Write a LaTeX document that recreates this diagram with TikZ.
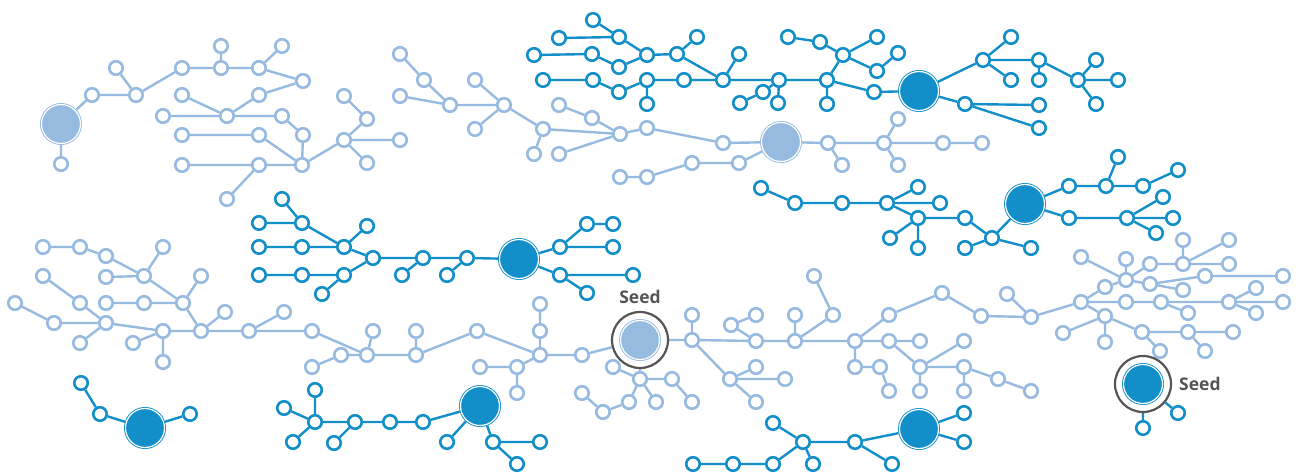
\documentclass[tikz,border=0pt]{standalone}
\usepackage{fontspec}
\setmainfont{Open Sans}
\usetikzlibrary{backgrounds}

\definecolor{paleblue}{RGB}{151,186,224}
\definecolor{deepblue}{RGB}{18,142,200}
\definecolor{seedgray}{RGB}{85,85,85}

\tikzset{
  sm/.style={circle, fill=white, line width=2.6pt, minimum size=13.5pt, inner sep=0pt},
  pn/.style={sm, draw=paleblue},
  dn/.style={sm, draw=deepblue},
  big/.style={circle, minimum size=39pt, inner sep=0pt, outer sep=1.5pt, line width=0.9pt, double=white, double distance=1.2pt},
  pbig/.style={big, draw=paleblue, fill=paleblue},
  dbig/.style={big, draw=deepblue, fill=deepblue},
  seedring/.style={circle, draw=seedgray, fill=white, line width=2.2pt, minimum size=56pt, inner sep=0pt},
  seedtext/.style={text=seedgray, font=\bfseries\fontsize{17.5}{17.5}\selectfont, inner sep=0pt},
  pe/.style={paleblue, line width=2.4pt},
  de/.style={deepblue, line width=2.4pt}
}

\begin{document}
\begin{tikzpicture}[x=1pt, y=-1pt]
  \useasboundingbox (0,0) rectangle (1298,473);

  % tree a (pale, top left)
  \node[pbig] (a0) at (61,124) {};
  \node[pn] (a1) at (61,164) {};  \node[pn] (a2) at (92,95) {};   \node[pn] (a3) at (136,95) {};
  \node[pn] (a4) at (116,68) {};  \node[pn] (a5) at (182,68) {};  \node[pn] (a6) at (221,68) {};
  \node[pn] (a7) at (221,46) {};  \node[pn] (a8) at (259,68) {};  \node[pn] (a9) at (282,46) {};
  \node[pn] (a10) at (303,81) {}; \node[pn] (a11) at (259,95) {}; \node[pn] (a12) at (227,116) {};
  \node[pn] (a13) at (182,95) {}; \node[pn] (a14) at (163,116) {}; \node[pn] (a15) at (282,116) {};
  \node[pn] (a16) at (303,135) {}; \node[pn] (a17) at (259,135) {}; \node[pn] (a18) at (182,135) {};
  \node[pn] (a19) at (302,165) {}; \node[pn] (a20) at (259,165) {}; \node[pn] (a21) at (182,165) {};
  \node[pn] (a22) at (227,199) {}; \node[pn] (a23) at (344,140) {}; \node[pn] (a24) at (367,119) {};
  \node[pn] (a25) at (344,96) {};  \node[pn] (a26) at (400,140) {}; \node[pn] (a27) at (367,163) {};

  % tree b (pale, top middle)
  \node[pbig] (b0) at (781,142) {};
  \node[pn] (b1) at (400,54) {};  \node[pn] (b2) at (424,80) {};  \node[pn] (b3) at (400,96) {};
  \node[pn] (b4) at (450,105) {}; \node[pn] (b5) at (475,80) {};  \node[pn] (b6) at (504,105) {};
  \node[pn] (b7) at (475,129) {}; \node[pn] (b8) at (543,129) {}; \node[pn] (b9) at (534,154) {};
  \node[pn] (b10) at (559,154) {}; \node[pn] (b11) at (559,105) {}; \node[pn] (b12) at (592,118) {};
  \node[pn] (b13) at (620,134) {}; \node[pn] (b14) at (647,128) {}; \node[pn] (b15) at (723,143) {};
  \node[pn] (b16) at (620,177) {}; \node[pn] (b17) at (647,177) {}; \node[pn] (b18) at (692,163) {};
  \node[pn] (b19) at (739,163) {}; \node[pn] (b20) at (828,143) {}; \node[pn] (b21) at (842,165) {};
  \node[pn] (b22) at (884,143) {}; \node[pn] (b23) at (898,119) {}; \node[pn] (b24) at (898,165) {};
  \node[pn] (b25) at (943,143) {}; \node[pn] (b26) at (982,143) {};

  % tree c (deep, top)
  \node[dbig] (c0) at (919,91) {};
  \node[dn] (c1) at (593,20) {};  \node[dn] (c2) at (619,37) {};  \node[dn] (c3) at (559,38) {};
  \node[dn] (c4) at (647,55) {};  \node[dn] (c5) at (534,55) {};  \node[dn] (c6) at (592,54) {};
  \node[dn] (c7) at (619,67) {};  \node[dn] (c8) at (543,80) {};  \node[dn] (c9) at (593,80) {};
  \node[dn] (c10) at (619,92) {}; \node[dn] (c11) at (647,80) {}; \node[dn] (c12) at (647,104) {};
  \node[dn] (c13) at (677,54) {}; \node[dn] (c14) at (697,37) {}; \node[dn] (c15) at (684,80) {};
  \node[dn] (c16) at (723,80) {}; \node[dn] (c17) at (739,54) {}; \node[dn] (c18) at (779,80) {};
  \node[dn] (c19) at (763,92) {}; \node[dn] (c20) at (740,103) {}; \node[dn] (c21) at (778,103) {};
  \node[dn] (c22) at (827,80) {}; \node[dn] (c23) at (827,104) {}; \node[dn] (c24) at (843,55) {};
  \node[dn] (c25) at (820,42) {}; \node[dn] (c26) at (788,37) {}; \node[dn] (c27) at (877,37) {};
  \node[dn] (c28) at (877,71) {}; \node[dn] (c29) at (898,53) {}; \node[dn] (c30) at (874,92) {};
  \node[dn] (c31) at (983,60) {}; \node[dn] (c32) at (1011,37) {}; \node[dn] (c33) at (1011,80) {};
  \node[dn] (c34) at (1039,60) {}; \node[dn] (c35) at (1039,80) {}; \node[dn] (c36) at (1078,80) {};
  \node[dn] (c37) at (1096,60) {}; \node[dn] (c38) at (1118,80) {}; \node[dn] (c39) at (1096,104) {};
  \node[dn] (c40) at (965,104) {}; \node[dn] (c41) at (1039,105) {}; \node[dn] (c42) at (1039,128) {};

  % tree d (deep, right)
  \node[dbig] (d0) at (1025,204) {};
  \node[dn] (d1) at (761,188) {};  \node[dn] (d2) at (795,203) {};  \node[dn] (d3) at (842,203) {};
  \node[dn] (d4) at (887,203) {};  \node[dn] (d5) at (918,187) {};  \node[dn] (d6) at (940,203) {};
  \node[dn] (d7) at (918,218) {};  \node[dn] (d8) at (890,238) {};  \node[dn] (d9) at (918,248) {};
  \node[dn] (d10) at (965,218) {}; \node[dn] (d11) at (992,238) {}; \node[dn] (d12) at (965,248) {};
  \node[dn] (d13) at (1031,248) {}; \node[dn] (d14) at (1069,186) {}; \node[dn] (d15) at (1106,186) {};
  \node[dn] (d16) at (1118,157) {}; \node[dn] (d17) at (1143,186) {}; \node[dn] (d18) at (1178,170) {};
  \node[dn] (d19) at (1069,218) {}; \node[dn] (d20) at (1127,218) {}; \node[dn] (d21) at (1163,197) {};
  \node[dn] (d22) at (1173,218) {}; \node[dn] (d23) at (1156,233) {};

  % tree e (deep, middle left)
  \node[dbig] (e0) at (519,259) {};
  \node[dn] (e1) at (282,199) {};  \node[dn] (e2) at (259,223) {};  \node[dn] (e3) at (302,223) {};
  \node[dn] (e4) at (367,226) {};  \node[dn] (e5) at (344,247) {};  \node[dn] (e6) at (259,247) {};
  \node[dn] (e7) at (302,247) {};  \node[dn] (e8) at (373,258) {};  \node[dn] (e9) at (259,275) {};
  \node[dn] (e10) at (302,275) {}; \node[dn] (e11) at (344,275) {}; \node[dn] (e12) at (322,294) {};
  \node[dn] (e13) at (423,258) {}; \node[dn] (e14) at (402,275) {}; \node[dn] (e15) at (467,258) {};
  \node[dn] (e16) at (447,275) {}; \node[dn] (e17) at (560,247) {}; \node[dn] (e18) at (587,224) {};
  \node[dn] (e19) at (613,224) {}; \node[dn] (e20) at (613,247) {}; \node[dn] (e21) at (560,275) {};
  \node[dn] (e22) at (633,275) {}; \node[dn] (e23) at (587,293) {};

  % tree f (pale, seed in the middle)
  \node[seedring] (f0) at (640,340) {};
  \node[pbig] (f0c) at (f0) {};
  \node[seedtext] (seedA) at (640,297) {Seed};
  \node[pn] (f1) at (43,247) {};  \node[pn] (f2) at (80,247) {};  \node[pn] (f3) at (106,256) {};
  \node[pn] (f4) at (163,247) {}; \node[pn] (f5) at (144,276) {}; \node[pn] (f6) at (106,277) {};
  \node[pn] (f7) at (43,276) {};  \node[pn] (f8) at (80,303) {};  \node[pn] (f9) at (201,276) {};
  \node[pn] (f10) at (106,303) {}; \node[pn] (f11) at (144,303) {}; \node[pn] (f12) at (183,303) {};
  \node[pn] (f13) at (15,303) {};  \node[pn] (f14) at (54,323) {};  \node[pn] (f15) at (106,323) {};
  \node[pn] (f16) at (80,343) {};  \node[pn] (f17) at (163,331) {}; \node[pn] (f18) at (133,343) {};
  \node[pn] (f19) at (163,362) {}; \node[pn] (f20) at (201,331) {}; \node[pn] (f21) at (225,312) {};
  \node[pn] (f22) at (249,331) {}; \node[pn] (f23) at (284,312) {}; \node[pn] (f24) at (312,331) {};
  \node[pn] (f25) at (341,355) {}; \node[pn] (f26) at (312,367) {}; \node[pn] (f27) at (367,355) {};
  \node[pn] (f28) at (373,331) {}; \node[pn] (f29) at (416,355) {}; \node[pn] (f30) at (416,331) {};
  \node[pn] (f31) at (477,331) {}; \node[pn] (f32) at (540,355) {}; \node[pn] (f33) at (540,331) {};
  \node[pn] (f34) at (540,304) {}; \node[pn] (f35) at (517,367) {}; \node[pn] (f36) at (480,367) {};
  \node[pn] (f37) at (517,393) {}; \node[pn] (f38) at (582,355) {}; \node[pn] (f39) at (613,367) {};
  \node[pn] (f40) at (640,379) {}; \node[pn] (f41) at (672,379) {}; \node[pn] (f42) at (582,393) {};
  \node[pn] (f43) at (603,412) {}; \node[pn] (f44) at (629,402) {}; \node[pn] (f45) at (656,402) {};
  \node[pn] (f46) at (692,402) {}; \node[pn] (f47) at (692,340) {}; \node[pn] (f48) at (692,315) {};
  \node[pn] (f49) at (731,325) {}; \node[pn] (f50) at (756,315) {}; \node[pn] (f51) at (756,341) {};
  \node[pn] (f52) at (795,315) {}; \node[pn] (f53) at (795,341) {}; \node[pn] (f54) at (833,315) {};
  \node[pn] (f55) at (814,276) {}; \node[pn] (f56) at (855,341) {}; \node[pn] (f57) at (730,379) {};
  \node[pn] (f58) at (756,367) {}; \node[pn] (f59) at (785,379) {}; \node[pn] (f60) at (756,402) {};
  \node[pn] (f61) at (855,367) {}; \node[pn] (f62) at (880,367) {}; \node[pn] (f63) at (889,391) {};
  \node[pn] (f64) at (889,341) {}; \node[pn] (f65) at (920,341) {}; \node[pn] (f66) at (889,315) {};
  \node[pn] (f67) at (942,293) {}; \node[pn] (f68) at (981,316) {}; \node[pn] (f69) at (920,367) {};
  \node[pn] (f70) at (920,391) {}; \node[pn] (f71) at (964,341) {}; \node[pn] (f72) at (964,367) {};
  \node[pn] (f73) at (964,391) {}; \node[pn] (f74) at (998,379) {}; \node[pn] (f75) at (1031,391) {};
  \node[pn] (f76) at (1007,294) {}; \node[pn] (f77) at (1031,317) {}; \node[pn] (f78) at (1081,302) {};
  \node[pn] (f79) at (1105,287) {}; \node[pn] (f80) at (1126,280) {}; \node[pn] (f81) at (1081,257) {};
  \node[pn] (f82) at (1126,259) {}; \node[pn] (f83) at (1150,264) {}; \node[pn] (f84) at (1183,264) {};
  \node[pn] (f85) at (1183,240) {}; \node[pn] (f86) at (1229,240) {}; \node[pn] (f87) at (1229,264) {};
  \node[pn] (f88) at (1150,284) {}; \node[pn] (f89) at (1205,276) {}; \node[pn] (f90) at (1283,276) {};
  \node[pn] (f91) at (1183,290) {}; \node[pn] (f92) at (1126,302) {}; \node[pn] (f93) at (1161,302) {};
  \node[pn] (f94) at (1188,313) {}; \node[pn] (f95) at (1229,302) {}; \node[pn] (f96) at (1256,288) {};
  \node[pn] (f97) at (1256,313) {}; \node[pn] (f98) at (1283,302) {}; \node[pn] (f99) at (1105,316) {};
  \node[pn] (f100) at (1063,333) {}; \node[pn] (f101) at (1105,342) {}; \node[pn] (f102) at (1142,332) {};
  \node[pn] (f103) at (1188,332) {}; \node[pn] (f104) at (1233,332) {}; \node[pn] (f105) at (1160,351) {};
  \node[pn] (f106) at (1205,351) {};

  % tree g (deep, bottom left)
  \node[dbig] (g0) at (480,406) {};
  \node[dn] (g1) at (315,390) {};  \node[dn] (g2) at (284,408) {};  \node[dn] (g3) at (315,422) {};
  \node[dn] (g4) at (293,442) {};  \node[dn] (g5) at (355,422) {};  \node[dn] (g6) at (334,443) {};
  \node[dn] (g7) at (390,422) {};  \node[dn] (g8) at (423,422) {};  \node[dn] (g9) at (447,442) {};
  \node[dn] (g10) at (493,442) {}; \node[dn] (g11) at (540,442) {}; \node[dn] (g12) at (517,464) {};

  % tree h (deep, bottom middle)
  \node[dbig] (h0) at (919,429) {};
  \node[dn] (h1) at (964,413) {};  \node[dn] (h2) at (964,442) {};  \node[dn] (h3) at (855,442) {};
  \node[dn] (h4) at (803,442) {};  \node[dn] (h5) at (773,423) {};  \node[dn] (h6) at (892,464) {};
  \node[dn] (h7) at (813,464) {};  \node[dn] (h8) at (773,464) {};  \node[dn] (h9) at (733,464) {};
  \node[dn] (h10) at (693,464) {};

  % tree i (deep, far bottom left)
  \node[dbig] (i0) at (145,428) {};
  \node[dn] (i1) at (81,383) {};  \node[dn] (i2) at (100,414) {};  \node[dn] (i3) at (190,414) {};

  % tree j (deep seed, bottom right)
  \node[seedring] (j0) at (1143,384) {};
  \node[dbig] (j0c) at (j0) {};
  \node[seedtext, anchor=west] (seedB) at (1179,384) {Seed};
  \node[dn] (j1) at (1178,413) {};  \node[dn] (j2) at (1143,428) {};

  % links
  \begin{pgfonlayer}{background}
    \draw[pe] (a0)--(a1) (a0)--(a2) (a2)--(a3) (a4)--(a3) (a3)--(a5) (a5)--(a6) (a7)--(a6)
      (a6)--(a8) (a9)--(a8) (a8)--(a10) (a11)--(a10) (a13)--(a12) (a14)--(a12) (a12)--(a11)
      (a12)--(a15) (a15)--(a16) (a16)--(a19) (a18)--(a17) (a17)--(a19) (a21)--(a20) (a20)--(a19)
      (a22)--(a20) (a19)--(a23) (a23)--(a24) (a24)--(a25) (a23)--(a26) (a23)--(a27);
    \draw[pe] (b1)--(b2) (b2)--(b4) (b3)--(b4) (b4)--(b6) (b5)--(b6) (b7)--(b6) (b6)--(b8)
      (b8)--(b9) (b8)--(b13) (b10)--(b13) (b11)--(b12) (b12)--(b13) (b13)--(b14) (b14)--(b15)
      (b15)--(b0) (b16)--(b17) (b17)--(b18) (b18)--(b19) (b19)--(b0) (b0)--(b20) (b20)--(b21)
      (b20)--(b22) (b22)--(b23) (b22)--(b24) (b22)--(b25) (b25)--(b26);
    \draw[de] (c1)--(c2) (c3)--(c2) (c2)--(c4) (c5)--(c6) (c6)--(c7) (c7)--(c4) (c8)--(c9)
      (c9)--(c10) (c10)--(c11) (c11)--(c12) (c4)--(c13) (c13)--(c14) (c11)--(c15) (c15)--(c16)
      (c13)--(c16) (c17)--(c16) (c16)--(c18) (c20)--(c19) (c19)--(c18) (c18)--(c21) (c18)--(c22)
      (c22)--(c23) (c22)--(c24) (c25)--(c24) (c26)--(c25) (c24)--(c27) (c24)--(c28) (c29)--(c28)
      (c22)--(c30) (c30)--(c0) (c0)--(c31) (c31)--(c32) (c31)--(c33) (c31)--(c34) (c34)--(c35)
      (c34)--(c36) (c37)--(c36) (c36)--(c38) (c39)--(c36) (c0)--(c40) (c40)--(c41) (c40)--(c42);
    \draw[de] (d1)--(d2) (d2)--(d3) (d3)--(d4) (d4)--(d5) (d4)--(d6) (d4)--(d7) (d7)--(d8)
      (d7)--(d9) (d7)--(d10) (d10)--(d11) (d12)--(d11) (d11)--(d13) (d11)--(d0) (d0)--(d14)
      (d14)--(d15) (d15)--(d16) (d15)--(d17) (d17)--(d18) (d0)--(d19) (d19)--(d20) (d20)--(d21)
      (d20)--(d22) (d20)--(d23);
    \draw[de] (e1)--(e3) (e2)--(e3) (e3)--(e5) (e4)--(e5) (e6)--(e7) (e7)--(e5) (e5)--(e8)
      (e9)--(e10) (e10)--(e11) (e12)--(e11) (e11)--(e8) (e8)--(e13) (e14)--(e13) (e13)--(e15)
      (e16)--(e15) (e15)--(e0) (e0)--(e17) (e17)--(e18) (e18)--(e19) (e17)--(e20) (e0)--(e21)
      (e21)--(e22) (e21)--(e23);
    \draw[pe] (f1)--(f2) (f2)--(f3) (f3)--(f5) (f4)--(f5) (f6)--(f5) (f5)--(f12) (f7)--(f8)
      (f8)--(f15) (f10)--(f11) (f11)--(f12) (f9)--(f12) (f13)--(f14) (f14)--(f15) (f16)--(f15)
      (f15)--(f17) (f18)--(f17) (f17)--(f19) (f17)--(f20) (f12)--(f20) (f20)--(f21) (f20)--(f22)
      (f22)--(f23) (f22)--(f24) (f24)--(f27) (f25)--(f27) (f26)--(f25) (f27)--(f28) (f27)--(f29)
      (f30)--(f29) (f29)--(f31) (f31)--(f32) (f34)--(f33) (f33)--(f32) (f32)--(f38) (f32)--(f35)
      (f36)--(f35) (f35)--(f37) (f38)--(f0);
    \draw[pe] (f0)--(f40) (f39)--(f40) (f40)--(f41) (f40)--(f44) (f40)--(f45) (f41)--(f46)
      (f42)--(f43) (f43)--(f44) (f0)--(f47) (f48)--(f47) (f47)--(f51) (f49)--(f50) (f49)--(f51)
      (f51)--(f53) (f52)--(f53) (f53)--(f54) (f54)--(f55) (f53)--(f56) (f47)--(f57) (f57)--(f58)
      (f57)--(f59) (f57)--(f60) (f56)--(f66) (f66)--(f67) (f67)--(f68) (f56)--(f64) (f64)--(f65)
      (f64)--(f69) (f56)--(f61) (f61)--(f62) (f62)--(f63) (f69)--(f70) (f69)--(f71) (f69)--(f72)
      (f72)--(f73) (f72)--(f74) (f74)--(f75);
    \draw[pe] (f68)--(f77) (f76)--(f77) (f77)--(f78) (f78)--(f79) (f79)--(f80) (f81)--(f80)
      (f82)--(f80) (f80)--(f83) (f83)--(f84) (f85)--(f84) (f84)--(f86) (f84)--(f87) (f80)--(f88)
      (f88)--(f89) (f89)--(f90) (f88)--(f91) (f78)--(f92) (f92)--(f93) (f93)--(f95) (f93)--(f94)
      (f95)--(f96) (f95)--(f97) (f95)--(f98) (f78)--(f99) (f99)--(f100) (f99)--(f101)
      (f99)--(f102) (f102)--(f103) (f103)--(f104) (f102)--(f105) (f103)--(f106);
    \draw[de] (g1)--(g3) (g2)--(g3) (g4)--(g3) (g3)--(g5) (g6)--(g5) (g5)--(g7) (g7)--(g8)
      (g8)--(g0) (g9)--(g0) (g0)--(g10) (g10)--(g11) (g10)--(g12);
    \draw[de] (h0)--(h1) (h0)--(h2) (h3)--(h0) (h4)--(h3) (h5)--(h4) (h3)--(h6) (h4)--(h7)
      (h8)--(h4) (h9)--(h8) (h10)--(h9);
    \draw[de] (i1)--(i2) (i2)--(i0) (i0)--(i3);
    \draw[de] (j0)--(j1) (j0)--(j2);
  \end{pgfonlayer}
\end{tikzpicture}
\end{document}
